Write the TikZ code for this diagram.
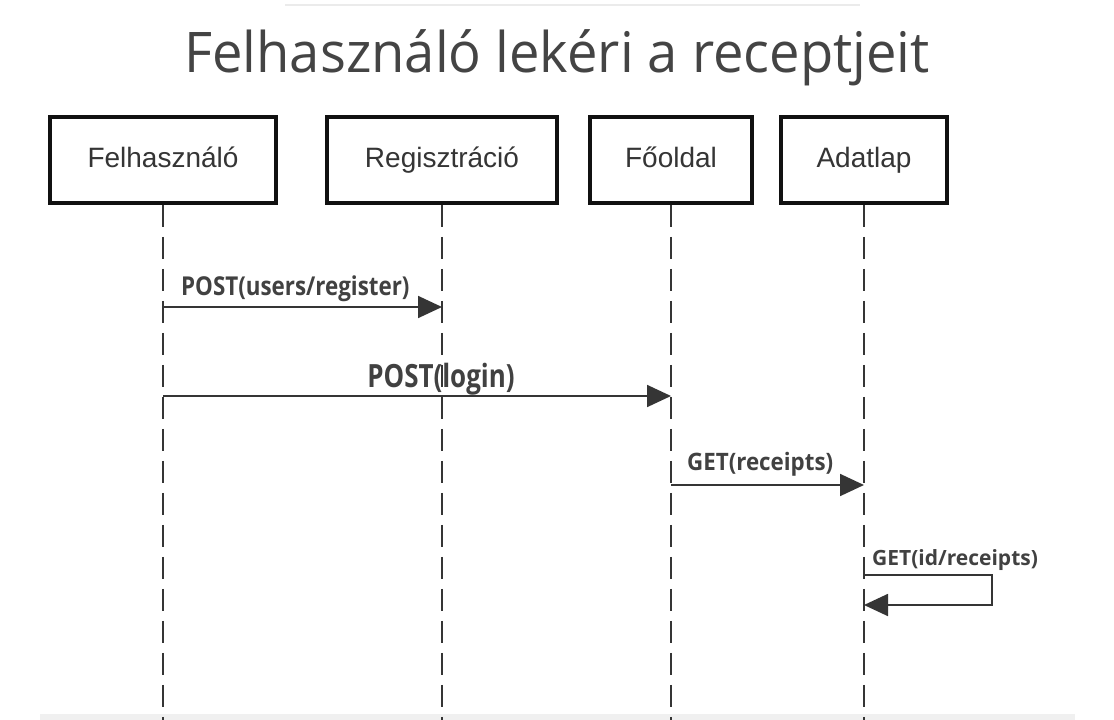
\documentclass[tikz,border=0pt]{standalone}
\usepackage{fontspec}
\setmainfont{Liberation Sans}
\newfontfamily\titlefont{Open Sans}
\newfontfamily\msgfont{Open Sans}
\usetikzlibrary{arrows.meta}
\definecolor{ink}{HTML}{111111}
\definecolor{titlegray}{HTML}{444444}
\newcommand\sqz[2]{\scalebox{#1}[1]{#2}}
\begin{document}
\begin{tikzpicture}[x=1pt,y=-1pt,
  actor/.style={draw=ink,line width=3.5pt,fill=white,minimum height=86pt,inner sep=0pt,
    font=\fontsize{28}{30}\selectfont,text=ink!85,text height=20pt,text depth=5pt},
  life/.style={draw=ink!85,line width=2.2pt,dash pattern=on 22pt off 10pt},
  msg/.style={draw=ink!85,line width=1.8pt,-{Triangle[length=24pt,width=22pt]}},
  lbl/.style={font=\msgfont\bfseries,text=ink!80,inner sep=0pt}]
\useasboundingbox (0,0) rectangle (1114,720);
\fill[white] (0,0) rectangle (1114,720);
\fill[black!6] (40,714) rectangle (1075,720);
\draw[black!8,line width=2pt] (285,5) -- (860,5);
\node[font=\titlefont\fontsize{56}{60}\selectfont,text=titlegray,anchor=base,inner sep=0pt] (title) at (557,72) {\sqz{0.97}{Felhasználó lekéri a receptjeit}};
\node[actor,minimum width=226pt] (u) at (163,160) {Felhasználó};
\node[actor,minimum width=230pt] (r) at (442,160) {Regisztráció};
\node[actor,minimum width=162pt] (h) at (671,160) {Főoldal};
\node[actor,minimum width=166pt] (d) at (864,160) {Adatlap};
\coordinate (bot) at (0,720);
\foreach \n in {u,r,h,d} {\draw[life] (\n.south) -- (\n |- bot);}
\coordinate (y1) at (0,307);
\coordinate (y2) at (0,396);
\coordinate (y3) at (0,485);
\coordinate (y4) at (0,575);
\coordinate (y5) at (0,605);
\coordinate (sx) at (992,0);
\draw[msg] (u |- y1) -- (r |- y1);
\node[lbl,anchor=base west] (m1) at (181,295) {\fontsize{26}{28}\selectfont\sqz{0.86}{POST(users/register)}};
\draw[msg] (u |- y2) -- (h |- y2);
\node[lbl,anchor=base] (m2) at (441,387) {\fontsize{32}{34}\selectfont\sqz{0.81}{POST(login)}};
\draw[msg] (h |- y3) -- (d |- y3);
\node[lbl,anchor=base west] (m3) at (687,470) {\fontsize{24}{26}\selectfont\sqz{0.93}{GET(receipts)}};
\draw[msg] (d |- y4) -- (sx |- y4) -- (sx |- y5) -- (d |- y5);
\node[lbl,anchor=base west] (m4) at (872,565) {\fontsize{21}{23}\selectfont GET(id/receipts)};
\end{tikzpicture}
\end{document}
